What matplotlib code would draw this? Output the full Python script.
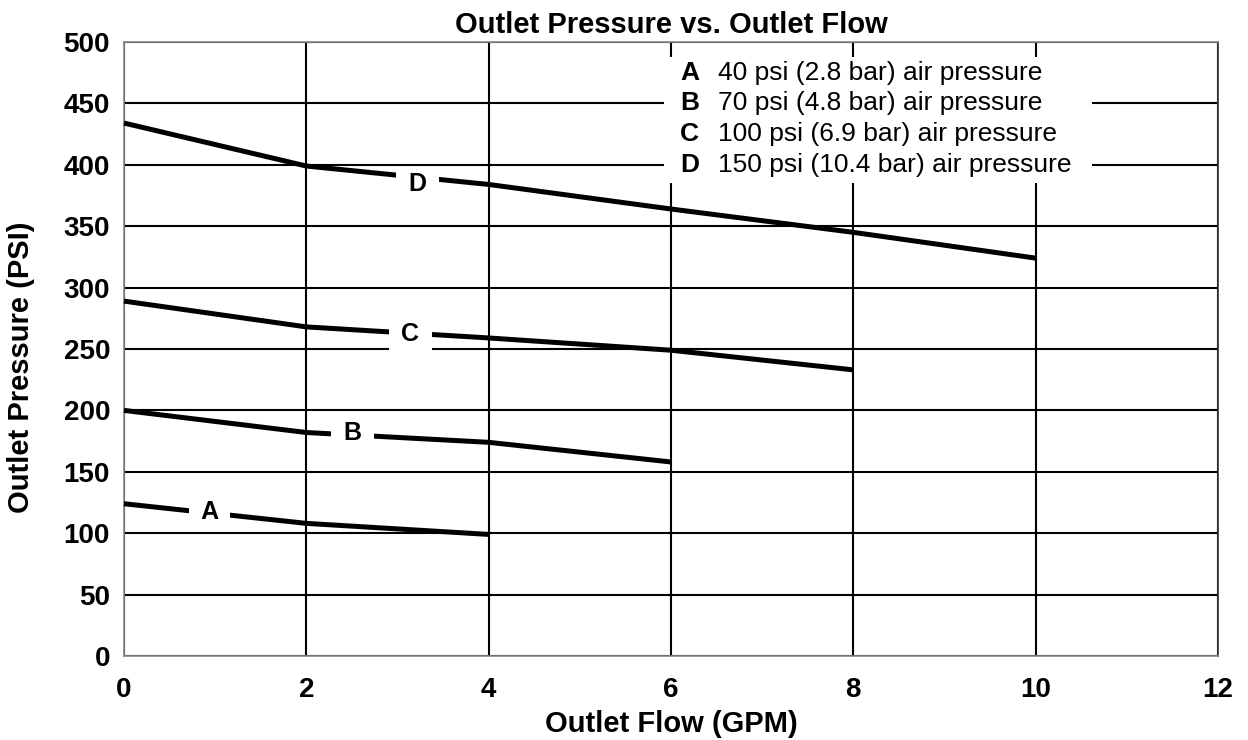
import matplotlib.pyplot as plt
from matplotlib.patches import Rectangle

# flow (GPM) and outlet pressure (psi) for each air pressure curve
flow_a = [0, 2, 4]
psi_a = [124, 108, 99]
flow_b = [0, 2, 4, 6]
psi_b = [200, 182, 174, 158]
flow_c = [0, 2, 4, 6, 8]
psi_c = [289, 268, 259, 249, 233]
flow_d = [0, 2, 4, 6, 8, 10]
psi_d = [434, 399, 384, 364, 345, 324]

curve_letters = ["A", "B", "C", "D"]
label_pos = [(0.94, 117), (2.51, 182), (3.14, 262), (3.22, 384)]
legend_text = [
    "40 psi (2.8 bar) air pressure",
    "70 psi (4.8 bar) air pressure",
    "100 psi (6.9 bar) air pressure",
    "150 psi (10.4 bar) air pressure",
]
legend_y = [475, 450, 425, 400]

x_ticks = [0, 2, 4, 6, 8, 10, 12]
y_ticks = [0, 50, 100, 150, 200, 250, 300, 350, 400, 450, 500]

plt.rcParams['font.family'] = ['Liberation Sans', 'DejaVu Sans']

fig = plt.figure(figsize=(12.48, 7.4), dpi=100)
ax = fig.add_axes([124 / 1248, 84 / 740, 1094 / 1248, 614 / 740])

ax.set_xlim(0, 12)
ax.set_ylim(0, 500)
ax.set_xticks(x_ticks)
ax.set_yticks(y_ticks)
ax.grid(True, color='black', linewidth=1.5)
ax.set_axisbelow(True)
ax.tick_params(length=0, labelsize=20)
ax.tick_params(axis='x', pad=15)
ax.tick_params(axis='y', pad=10)
for lab in ax.get_xticklabels() + ax.get_yticklabels():
    lab.set_fontweight('bold')

for side in ['left', 'bottom', 'top']:
    ax.spines[side].set_color('#888888')
    ax.spines[side].set_linewidth(1.2)
ax.spines['right'].set_color('#333333')
ax.spines['right'].set_linewidth(1.2)

for fx, py in [(flow_a, psi_a), (flow_b, psi_b), (flow_c, psi_c), (flow_d, psi_d)]:
    ax.plot(fx, py, color='black', linewidth=3.6, solid_capstyle='butt',
            clip_on=False, zorder=3)

# curve letters sit on the line inside a white gap
for letter, (lx, ly) in zip(curve_letters, label_pos):
    ax.text(lx, ly, " " + letter + " ", fontsize=18, fontweight='bold',
            ha='center', va='center', zorder=4,
            bbox=dict(facecolor='white', edgecolor='none', pad=4))

# white block behind the key, blanking the grid
ax.add_patch(Rectangle((5.92, legend_y[-1] - 15), 4.7,
                       legend_y[0] - legend_y[-1] + 28,
                       facecolor='white', edgecolor='none', zorder=2))
for letter, desc, ly in zip(curve_letters, legend_text, legend_y):
    ax.text(6.1, ly, letter, fontsize=19, fontweight='bold', ha='left',
            va='center', zorder=4)
    ax.text(6.52, ly, desc, fontsize=19, ha='left', va='center', zorder=4)

ax.set_title("Outlet Pressure vs. Outlet Flow", fontsize=21,
             fontweight='bold', pad=6.5)
ax.set_xlabel("Outlet Flow (GPM)", fontsize=21, fontweight='bold', labelpad=5)
ax.set_ylabel("Outlet Pressure (PSI)", fontsize=21, fontweight='bold')
ax.yaxis.set_label_coords(-0.081, 0.47)

fig.savefig("out.png", dpi=100)
